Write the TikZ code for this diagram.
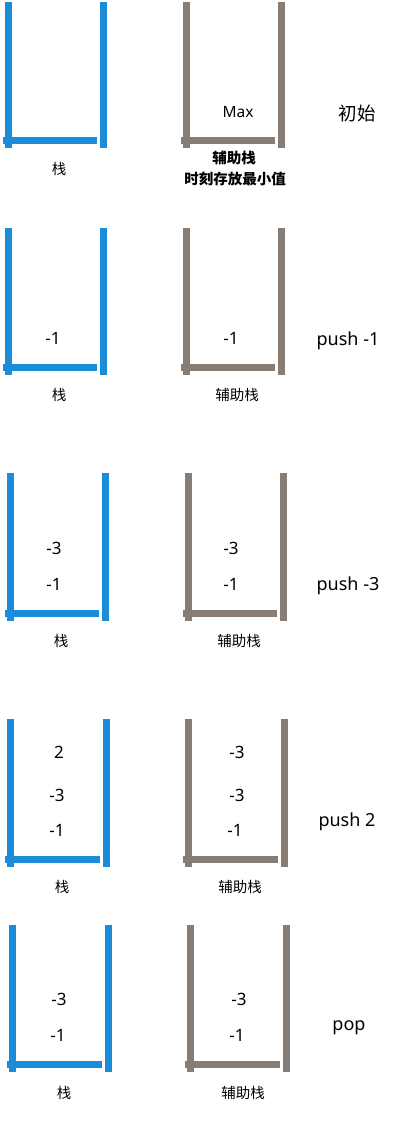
\documentclass[tikz,border=0pt]{standalone}
\usepackage{fontspec}
\setmainfont{Noto Sans}
\newfontfamily\cjk{Noto Sans CJK SC}
\usepackage{tikz}
\definecolor{stackblue}{RGB}{26,140,216}
\definecolor{auxgray}{RGB}{136,125,116}

\begin{document}
\begin{tikzpicture}[x=1pt, y=-1pt, line width=7pt,
  caption/.style={font=\cjk\fontsize{14.5}{16}\selectfont, inner sep=0pt},
  value/.style={font=\fontsize{17}{20}\selectfont, inner sep=0pt},
  action/.style={font=\fontsize{18}{21}\selectfont, inner sep=0pt}]
\useasboundingbox (0,0) rectangle (405,1124);

%draw stacks: left x / right x / top y / bottom y
\foreach \l/\r/\t/\b in {8/103.5/2/148, 8/103.5/228/375, 10/105/473/621, 10.5/106.5/719/867, 12.5/108.5/925/1072}
  \foreach \dx/\c in {0/stackblue, 178/auxgray}
  {
    \draw[\c] (\l+\dx,\t) -- (\l+\dx,\b);
    \draw[\c] (\r+\dx,\t) -- (\r+\dx,\b);
    \draw[\c] (\l+\dx-5.5,\b-8) -- (\r+\dx-6.5,\b-8);
  }

%draw step 1
\node[value, font=\fontsize{15.5}{18}\selectfont] (max) at (238,112) {Max};
\node[caption] (s1) at (59,169) {栈};
\node[caption, font=\cjk\bfseries\fontsize{14.5}{16}\selectfont] (a1) at (234,158) {辅助栈};
\node[caption, font=\cjk\bfseries\fontsize{14.5}{16}\selectfont] (n1) at (235,179) {时刻存放最小值};
\node[caption, font=\cjk\fontsize{18.5}{21}\selectfont] (op1) at (357,113) {初始};

%draw step 2
\node[value] (v21) at (53,338) {-1};
\node[value] (w21) at (231,338) {-1};
\node[action] (op2) at (348,341) {push -1};
\node[caption] (s2) at (59,395) {栈};
\node[caption] (a2) at (237,395) {辅助栈};

%draw step 3
\node[value] (v31) at (54,584) {-1};
\node[value] (v32) at (54,548) {-3};
\node[value] (w31) at (231,584) {-1};
\node[value] (w32) at (231,548) {-3};
\node[action] (op3) at (348,586) {push -3};
\node[caption] (s3) at (61,641) {栈};
\node[caption] (a3) at (239,641) {辅助栈};

%draw step 4
\node[value] (v41) at (57,830) {-1};
\node[value] (v42) at (57,795) {-3};
\node[value] (v43) at (59,752) {2};
\node[value] (w41) at (235,830) {-1};
\node[value] (w42) at (237,795) {-3};
\node[value] (w43) at (237,752) {-3};
\node[action] (op4) at (347,822) {push 2};
\node[caption] (s4) at (62,887) {栈};
\node[caption] (a4) at (240,887) {辅助栈};

%draw step 5
\node[value] (v51) at (58,1035) {-1};
\node[value] (v52) at (59,999) {-3};
\node[value] (w51) at (237,1035) {-1};
\node[value] (w52) at (239,999) {-3};
\node[action] (op5) at (349,1028) {pop};
\node[caption] (s5) at (64,1093) {栈};
\node[caption] (a5) at (243,1093) {辅助栈};
\end{tikzpicture}
\end{document}
